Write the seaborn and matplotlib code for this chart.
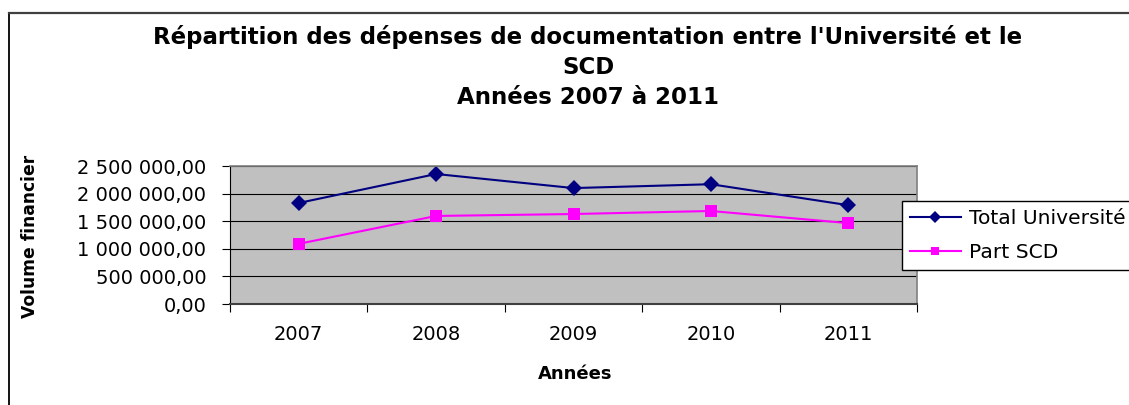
import matplotlib
matplotlib.use("Agg")
import matplotlib.pyplot as plt
from matplotlib.lines import Line2D
from matplotlib.ticker import FixedLocator, FuncFormatter
import seaborn as sb
import pandas as pd

annees = ["2007", "2008", "2009", "2010", "2011"]
total_universite = [1830000, 2355000, 2100000, 2170000, 1790000]
part_scd = [1090000, 1595000, 1630000, 1685000, 1465000]
series_names = ["Total Université", "Part SCD"]
title_lines = ["Répartition des dépenses de documentation entre l'Université et le",
               "SCD",
               "Années 2007 à 2011"]

df = pd.DataFrame({
    "Années": annees * 2,
    "Volume": total_universite + part_scd,
    "Série": [series_names[0]] * 5 + [series_names[1]] * 5,
})

W, H = 1129, 405
fig = plt.figure(figsize=(W / 100, H / 100), dpi=100)
fig.patch.set_facecolor("white")

# chart border (left + top only, rest is cut off)
fig.add_artist(Line2D([9 / W, 9 / W], [0, 1 - 12.5 / H], transform=fig.transFigure,
                      color="black", lw=1.3))
fig.add_artist(Line2D([9 / W, 1], [1 - 12.5 / H, 1 - 12.5 / H], transform=fig.transFigure,
                      color="#404040", lw=1.6))

ax = fig.add_axes([230 / W, 1 - 304 / H, (917 - 230) / W, (304 - 166) / H])
ax.set_facecolor("#C0C0C0")

colors = {"Total Université": "#000080", "Part SCD": "#FF00FF"}
markers = {"Total Université": "D", "Part SCD": "s"}
sb.lineplot(data=df, x="Années", y="Volume", hue="Série", style="Série",
            palette=colors, markers=markers, dashes=False, markersize=8,
            markeredgewidth=0, linewidth=1.5, ax=ax, legend=False)

ax.set_xlim(-0.5, 4.5)
ax.set_ylim(0, 2500000)
ax.yaxis.set_major_locator(FixedLocator([0, 500000, 1000000, 1500000, 2000000, 2500000]))
ax.yaxis.set_major_formatter(FuncFormatter(
    lambda v, p: f"{v:,.2f}".replace(",", " ").replace(".", ",")))
ax.grid(axis="y", color="black", lw=0.8)
ax.set_axisbelow(True)

ax.set_xticks(range(5))
ax.set_xticklabels(annees)
ax.set_xticks([i - 0.5 for i in range(6)], minor=True)
ax.tick_params(axis="x", which="major", length=0, pad=15, labelsize=14)
ax.tick_params(axis="x", which="minor", length=6, width=0.8, direction="out", color="black")
ax.tick_params(axis="y", length=6, width=0.8, direction="out", color="black", pad=11, labelsize=14)

for s in ["top", "right"]:
    ax.spines[s].set_color("#808080")
    ax.spines[s].set_linewidth(1.2)
ax.spines["left"].set_color("black")
ax.spines["left"].set_linewidth(0.8)
ax.spines["bottom"].set_color("#404040")
ax.spines["bottom"].set_linewidth(1.5)

ax.set_xlabel("")
ax.set_ylabel("")
fig.text(575 / W, 1 - 374 / H, "Années", ha="center", va="center",
         fontsize=13, fontweight="bold")
fig.text(30 / W, 1 - 236 / H, "Volume financier", ha="center", va="center",
         rotation=90, fontsize=12.3, fontweight="bold")

for i, line in enumerate(title_lines):
    fig.text(588 / W, 1 - (37 + 30 * i) / H, line, ha="center", va="center",
             fontsize=16.5, fontweight="bold")

handles = [Line2D([], [], color=colors[n], marker=markers[n], markersize=6,
                  markeredgewidth=0, lw=1.5) for n in series_names]
leg = fig.legend(handles, series_names, loc="upper left",
                 bbox_to_anchor=(902 / W, 1 - 201 / H), fontsize=14.6,
                 frameon=True, fancybox=False, framealpha=1, edgecolor="black",
                 borderaxespad=0, handlelength=2.5, handletextpad=0.4,
                 labelspacing=0.75, borderpad=0.4)
leg.get_frame().set_linewidth(1.0)

fig.savefig("out.png", dpi=100)
